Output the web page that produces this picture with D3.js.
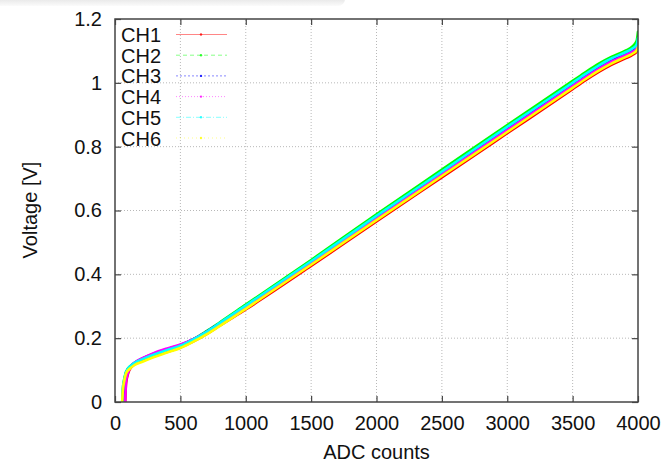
<!DOCTYPE html>
<html><head><meta charset="utf-8">
<script src="https://cdn.jsdelivr.net/npm/d3@7"></script>
<style>
html,body{margin:0;padding:0;background:#fff;}
text{font-family:"Liberation Sans",Arial,Helvetica,sans-serif;}
</style></head>
<body>
<svg id="chart" width="671" height="463"></svg>
<script>
// ---- data ----
const adc = [55, 60, 70, 78, 85, 115, 150, 214, 300, 400, 500, 600, 700, 800, 1000, 1500, 2000, 2500, 3000, 3500, 3600, 3700, 3800, 3900, 3960, 3990, 4000];
const ch1 = [null, null, null, 0, 0.06, 0.104, 0.118, 0.129, 0.143, 0.157, 0.171, 0.19, 0.213, 0.239, 0.29, 0.426, 0.566, 0.704, 0.842, 0.98, 1.008, 1.034, 1.057, 1.076, 1.088, 1.098, 1.106];
const ch2 = [0, 0.04, 0.07, 0.085, 0.095, 0.112, 0.123, 0.135, 0.149, 0.163, 0.177, 0.197, 0.222, 0.249, 0.305, 0.445, 0.588, 0.728, 0.868, 1.006, 1.034, 1.06, 1.082, 1.1, 1.115, 1.132, 1.16];
const ch3 = [null, 0, 0.05, 0.08, 0.092, 0.11, 0.123, 0.137, 0.152, 0.166, 0.179, 0.197, 0.22, 0.246, 0.299, 0.437, 0.578, 0.717, 0.856, 0.994, 1.022, 1.048, 1.071, 1.09, 1.102, 1.112, 1.125];
const ch4 = [null, null, null, 0, 0.065, 0.108, 0.123, 0.138, 0.154, 0.168, 0.18, 0.197, 0.219, 0.245, 0.297, 0.434, 0.574, 0.713, 0.852, 0.99, 1.018, 1.044, 1.067, 1.086, 1.098, 1.108, 1.118];
const ch5 = [0, 0.04, 0.07, 0.085, 0.095, 0.112, 0.123, 0.135, 0.149, 0.163, 0.176, 0.196, 0.22, 0.247, 0.302, 0.441, 0.583, 0.722, 0.862, 1.0, 1.028, 1.054, 1.077, 1.095, 1.108, 1.12, 1.14];
const ch6 = [0, 0.035, 0.065, 0.08, 0.09, 0.105, 0.116, 0.127, 0.141, 0.155, 0.169, 0.189, 0.212, 0.238, 0.292, 0.43, 0.57, 0.708, 0.846, 0.984, 1.012, 1.038, 1.061, 1.08, 1.092, 1.102, 1.112];
const seriesNames = ["CH1", "CH2", "CH3", "CH4", "CH5", "CH6"];
const seriesValues = [ch1, ch2, ch3, ch4, ch5, ch6];
const xTicks = [0, 500, 1000, 1500, 2000, 2500, 3000, 3500, 4000];
const yTicks = [0, 0.2, 0.4, 0.6, 0.8, 1, 1.2];
const xTitle = "ADC counts";
const yTitle = "Voltage [V]";

// ---- styles ----
const colors = ["#ff0000", "#00ff00", "#0000ff", "#ff00ff", "#00ffff", "#ffff00"];
const dashes = [null, "4,3", "2,2", "1,2", "5,2,1,2", "1,3"];

const svg = d3.select("#chart");
const L = 115, R = 638, T = 19, B = 402;

// window shadow at top-left
const defs = svg.append("defs");
const g1 = defs.append("linearGradient").attr("id","sh").attr("x1",0).attr("y1",0).attr("x2",0).attr("y2",1);
g1.append("stop").attr("offset","0%").attr("stop-color","#d4d4d4");
g1.append("stop").attr("offset","100%").attr("stop-color","#fbfbfb");
svg.append("rect").attr("x",-10).attr("y",-8).attr("width",355).attr("height",14).attr("rx",7).attr("fill","url(#sh)");

const x = d3.scaleLinear().domain([0, 4000]).range([L, R]);
const y = d3.scaleLinear().domain([0, 1.2]).range([B, T]);

// grid
const grid = svg.append("g").attr("stroke", "#b8b8b8").attr("stroke-width", 1).attr("stroke-dasharray", "1,2");
xTicks.slice(1, -1).forEach(v => grid.append("line").attr("x1", x(v)).attr("x2", x(v)).attr("y1", B).attr("y2", T));
yTicks.slice(1, -1).forEach(v => grid.append("line").attr("x1", L).attr("x2", R).attr("y1", y(v)).attr("y2", y(v)));

// axes (ticks inside, mirrored)
const tl = 6;
const xb = svg.append("g").attr("transform", `translate(0,${B})`)
  .call(d3.axisBottom(x).tickValues(xTicks).tickSize(-tl).tickPadding(14).tickFormat(d3.format("d")));
const xt = svg.append("g").attr("transform", `translate(0,${T})`)
  .call(d3.axisTop(x).tickValues(xTicks).tickSize(-tl).tickFormat(""));
const yl = svg.append("g").attr("transform", `translate(${L},0)`)
  .call(d3.axisLeft(y).tickValues(yTicks).tickSize(-tl).tickPadding(13).tickFormat(d => d3.format("")(+d.toFixed(1))));
const yr = svg.append("g").attr("transform", `translate(${R},0)`)
  .call(d3.axisRight(y).tickValues(yTicks).tickSize(-tl).tickFormat(""));
[xb, xt, yl, yr].forEach(a => {
  a.select(".domain").remove();
  a.selectAll(".tick line").attr("stroke", "#444").attr("stroke-width", 1.2);
  a.selectAll("text").attr("font-size", 20).attr("fill", "#111").attr("font-family", "'Liberation Sans',Arial,sans-serif");
});
xb.selectAll("text").attr("dy", "0.71em");

// series
const clip = defs.append("clipPath").attr("id", "clip");
clip.append("rect").attr("x", L).attr("y", T).attr("width", R - L).attr("height", B - T);
const line = d3.line().defined(d => d[1] !== null).x(d => x(d[0])).y(d => y(d[1])).curve(d3.curveMonotoneX);
const plot = svg.append("g").attr("clip-path", "url(#clip)");
seriesValues.forEach((vals, i) => {
  plot.append("path").datum(adc.map((a, j) => [a, vals[j]]))
    .attr("d", line).attr("fill", "none").attr("stroke", colors[i])
    .attr("stroke-width", 2.6).attr("stroke-linejoin", "round").attr("stroke-linecap", "round");
});

// frame
svg.append("rect").attr("x", L).attr("y", T).attr("width", R - L).attr("height", B - T)
  .attr("fill", "none").attr("stroke", "#444").attr("stroke-width", 1.5);

// legend
const lg = svg.append("g");
seriesNames.forEach((n, i) => {
  const by = 42 + i * 20.7;
  lg.append("text").attr("x", 121).attr("y", by).attr("font-size", 20).attr("fill", "#111").text(n);
  const ly = by - 7.5;
  lg.append("line").attr("x1", 176).attr("x2", 227).attr("y1", ly).attr("y2", ly)
    .attr("stroke", colors[i]).attr("stroke-width", 0.8).attr("stroke-opacity", 0.6)
    .attr("stroke-dasharray", dashes[i]);
  lg.append("circle").attr("cx", 201).attr("cy", ly).attr("r", 1.2).attr("fill", colors[i]).attr("fill-opacity", 0.8);
});

// titles
svg.append("text").attr("x", (L + R) / 2).attr("y", 459).attr("text-anchor", "middle")
  .attr("font-size", 20).attr("fill", "#111").text(xTitle);
svg.append("text").attr("transform", "translate(37,210) rotate(-90)").attr("text-anchor", "middle")
  .attr("font-size", 20).attr("fill", "#111").text(yTitle);
</script>
</body></html>
